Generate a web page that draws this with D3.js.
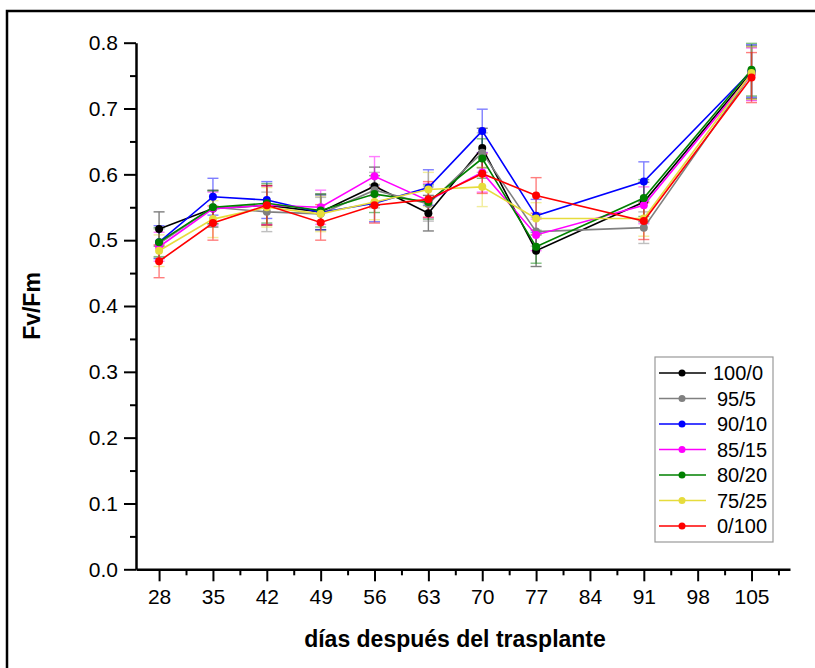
<!DOCTYPE html>
<html>
<head>
<meta charset="utf-8">
<script src="https://cdn.jsdelivr.net/npm/d3@7"></script>
<style>
  body { margin: 0; background: #fff; }
  svg { display: block; font-family: "Liberation Sans", Arial, sans-serif; }
  .axisTitle { font-weight: bold; font-size: 23px; }
</style>
</head>
<body>
<div class="chart"></div>
<script>
// days after transplant
let days = [28, 35, 42, 49, 56, 63, 70, 77, 91, 105];
let xTicks = [28, 35, 42, 49, 56, 63, 70, 77, 84, 91, 98, 105];
let yTicks = [0, 0.1, 0.2, 0.3, 0.4, 0.5, 0.6, 0.7, 0.8];

let seriesNames = ["100/0", "95/5", "90/10", "85/15", "80/20", "75/25", "0/100"];
let seriesColors = ["#000000", "#808080", "#0000ff", "#ff00ff", "#008000", "#e6dc3c", "#ff0000"];

let v100_0 = [0.517, 0.548, 0.553, 0.543, 0.582, 0.541, 0.640, 0.484, 0.558, 0.755];
let v95_5  = [0.495, 0.550, 0.543, 0.540, 0.576, 0.555, 0.633, 0.513, 0.519, 0.753];
let v90_10 = [0.497, 0.566, 0.561, 0.542, 0.556, 0.580, 0.666, 0.537, 0.589, 0.757];
let v85_15 = [0.490, 0.548, 0.553, 0.550, 0.597, 0.560, 0.603, 0.508, 0.553, 0.752];
let v80_20 = [0.497, 0.550, 0.556, 0.545, 0.570, 0.558, 0.624, 0.490, 0.564, 0.759];
let v75_25 = [0.484, 0.532, 0.550, 0.540, 0.558, 0.577, 0.581, 0.533, 0.533, 0.754];
let v0_100 = [0.468, 0.526, 0.553, 0.527, 0.553, 0.562, 0.601, 0.568, 0.529, 0.747];

let e100_0 = [0.026, 0.028, 0.030, 0.027, 0.029, 0.027, 0.030, 0.024, 0.030, 0.040];
let e95_5  = [0.022, 0.025, 0.030, 0.025, 0.027, 0.026, 0.030, 0.022, 0.024, 0.040];
let e90_10 = [0.025, 0.028, 0.028, 0.026, 0.028, 0.027, 0.033, 0.025, 0.030, 0.040];
let e85_15 = [0.022, 0.025, 0.029, 0.026, 0.030, 0.026, 0.030, 0.024, 0.028, 0.040];
let e80_20 = [0.022, 0.025, 0.030, 0.025, 0.028, 0.026, 0.030, 0.025, 0.028, 0.040];
let e75_25 = [0.024, 0.028, 0.030, 0.027, 0.027, 0.026, 0.030, 0.024, 0.027, 0.040];
let e0_100 = [0.025, 0.026, 0.030, 0.027, 0.027, 0.027, 0.030, 0.027, 0.028, 0.038];

let seriesValues = [v100_0, v95_5, v90_10, v85_15, v80_20, v75_25, v0_100];
let seriesErrors = [e100_0, e95_5, e90_10, e85_15, e80_20, e75_25, e0_100];

let svgWidth = 815;
let svgHeight = 668;

let margin = { top: 42.7, left: 136 };
let width = 654;
let height = 526.6;

let svg = d3.select(".chart")
  .append("svg")
  .attr("width", svgWidth)
  .attr("height", svgHeight);

// outer frame (clipped at right/bottom like the original)
svg.append("rect")
  .attr("x", 7).attr("y", 11)
  .attr("width", 840).attr("height", 700)
  .attr("fill", "none")
  .attr("stroke", "#000")
  .attr("stroke-width", 2.5);

let chartGroup = svg.append("g")
  .attr("transform", `translate(${margin.left}, ${margin.top})`);

let x = d3.scaleLinear().domain([25, 110]).range([0, width]);
let y = d3.scaleLinear().domain([0, 0.8]).range([height, 0]);

// minor ticks
let xMinor = xTicks.map(d => d + 3.5);
let yMinor = yTicks.slice(0, -1).map(d => d + 0.05);

chartGroup.append("g")
  .attr("transform", `translate(0, ${height})`)
  .call(d3.axisBottom(x).tickValues(xMinor).tickSize(6).tickSizeOuter(0).tickFormat(""))
  .call(g => g.select(".domain").remove())
  .selectAll("line").attr("stroke-width", 2);

chartGroup.append("g")
  .call(d3.axisLeft(y).tickValues(yMinor).tickSize(6).tickSizeOuter(0).tickFormat(""))
  .call(g => g.select(".domain").remove())
  .selectAll("line").attr("stroke-width", 2);

let xAxis = chartGroup.append("g")
  .attr("transform", `translate(0, ${height})`)
  .call(d3.axisBottom(x).tickValues(xTicks).tickSize(12).tickSizeOuter(0).tickPadding(8));

let yAxis = chartGroup.append("g")
  .call(d3.axisLeft(y).tickValues(yTicks).tickSize(12).tickSizeOuter(0).tickPadding(6).tickFormat(d3.format(".1f")));

[xAxis, yAxis].forEach(ax => {
  ax.select(".domain").attr("stroke-width", 2.5);
  ax.selectAll("line").attr("stroke-width", 2);
  ax.selectAll("text")
    .attr("font-size", "21px")
    .attr("font-family", "Liberation Sans, Arial, sans-serif")
    .attr("fill", "#000");
});

// error bars first
seriesValues.forEach((vals, i) => {
  let errs = seriesErrors[i];
  let col = seriesColors[i];
  let eg = chartGroup.append("g")
    .attr("stroke", col)
    .attr("stroke-width", 1.4)
    .attr("opacity", 0.5);
  days.forEach((d, j) => {
    let cx = x(d);
    let top = y(vals[j] + errs[j]);
    let bot = y(vals[j] - errs[j]);
    eg.append("line").attr("x1", cx).attr("x2", cx).attr("y1", top).attr("y2", bot);
    eg.append("line").attr("x1", cx - 5.5).attr("x2", cx + 5.5).attr("y1", top).attr("y2", top);
    eg.append("line").attr("x1", cx - 5.5).attr("x2", cx + 5.5).attr("y1", bot).attr("y2", bot);
  });
});

let line = d3.line()
  .x(d => x(d[0]))
  .y(d => y(d[1]));

seriesValues.forEach((vals, i) => {
  let pts = days.map((d, j) => [d, vals[j]]);
  chartGroup.append("path")
    .datum(pts)
    .attr("d", line)
    .attr("fill", "none")
    .attr("stroke", seriesColors[i])
    .attr("stroke-width", 1.6);

  chartGroup.selectAll(".pt" + i)
    .data(pts)
    .enter()
    .append("circle")
    .attr("cx", d => x(d[0]))
    .attr("cy", d => y(d[1]))
    .attr("r", 4)
    .attr("fill", seriesColors[i]);
});

// axis titles
svg.append("text")
  .attr("class", "axisTitle")
  .attr("transform", "translate(40, 306) rotate(-90)")
  .attr("text-anchor", "middle")
  .text("Fv/Fm");

svg.append("text")
  .attr("class", "axisTitle")
  .attr("x", 455)
  .attr("y", 647)
  .attr("text-anchor", "middle")
  .text("días después del trasplante");

// legend
let legend = svg.append("g");
legend.append("rect")
  .attr("x", 655).attr("y", 357)
  .attr("width", 118).attr("height", 185)
  .attr("fill", "#fff")
  .attr("stroke", "#999")
  .attr("stroke-width", 1.2);

seriesNames.forEach((name, i) => {
  let ly = 373 + i * 25.5;
  legend.append("line")
    .attr("x1", 659).attr("x2", 706)
    .attr("y1", ly).attr("y2", ly)
    .attr("stroke", seriesColors[i])
    .attr("stroke-width", 1.6);
  legend.append("circle")
    .attr("cx", 682).attr("cy", ly).attr("r", 3.5)
    .attr("fill", seriesColors[i]);
  legend.append("text")
    .attr("x", i === 0 ? 713 : 717).attr("y", ly + 7)
    .attr("font-size", "20px")
    .attr("fill", "#000")
    .text(name);
});
</script>
</body>
</html>
